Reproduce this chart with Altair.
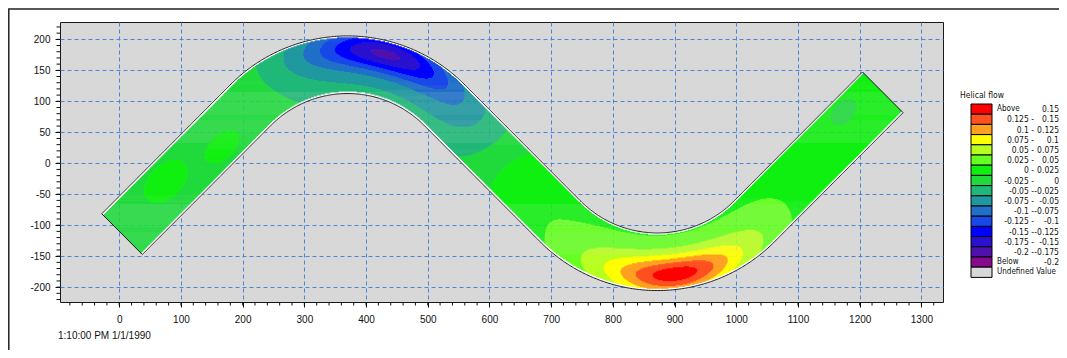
import numpy as np
import pandas as pd
import altair as alt

# ---------------- axes / text ----------------
X_DOMAIN = [-96, 1335]
Y_DOMAIN = [-224, 228]
X_TICKS = list(range(0, 1301, 100))
Y_TICKS = list(range(-200, 201, 50))
X_MINOR = list(range(-80, 1335, 20))
Y_MINOR = list(range(-220, 228, 10))
TIMESTAMP = "1:10:00 PM 1/1/1990"

# ---------------- legend ----------------
LEGEND_TITLE = "Helical flow"
THRESHOLDS = [-0.2, -0.175, -0.15, -0.125, -0.1, -0.075, -0.05, -0.025,
              0, 0.025, 0.05, 0.075, 0.1, 0.125, 0.15]
# colours from "Below -0.2" up to "Above 0.15"
BAND_COLORS = ["#860A8C", "#5010B0", "#2A10D0", "#0000FF", "#1848E8",
               "#2070C8", "#2098A0", "#20B878", "#20DA3C", "#10F010",
               "#66FF22", "#B8FF20", "#FFFF00", "#FFA020", "#FF5020",
               "#FF0000"]
UNDEFINED_COLOR = "#D8D8D8"
LEG_WORD = ["Above", "", "", "", "", "", "", "", "", "", "", "", "", "", "",
            "Below", "Undefined Value"]
LEG_FROM = ["", "0.125 -", "0.1 -", "0.075 -", "0.05 -", "0.025 -", "0 -",
            "-0.025 -", "-0.05 -", "-0.075 -", "-0.1 -", "-0.125 -",
            "-0.15 -", "-0.175 -", "-0.2 -", "", ""]
LEG_TO = ["0.15", "0.15", "0.125", "0.1", "0.075", "0.05", "0.025", "0",
          "-0.025", "-0.05", "-0.075", "-0.1", "-0.125", "-0.15", "-0.175",
          "-0.2", ""]

# ---------------- channel geometry ----------------
APEX_X, APEX_Y = 370.0, 159.0      # centre line crest of the upper bend
CROSS_X = 621.0                    # centre line crosses y = 0 here
BEND_R = 222.0                     # centre line radius of the bends
END_X = 4.6                        # x of the upstream end centre
HALF_W = 46.5                      # half width of the channel
EDGE_GAP = 2.5                     # white margin inside the banks

# ---------------- helical-flow field (blobs in channel coords s, n) -------
FIELD_BASE = -0.006
BLOB_S = [545, 525, 1105, 1110, 110, 215, 830, 1430, 1480]
BLOB_N = [20, 25, -20, -22, 10, -15, 0, 0, 20]
BLOB_AMP = [-0.06, -0.115, 0.055, 0.116, 0.018, 0.015, 0.02, 0.018, -0.015]
BLOB_SS = [200, 95, 215, 90, 40, 35, 70, 130, 30]
BLOB_SN = [85, 30, 80, 30, 25, 20, 60, 80, 20]
BLOB_P = [4, 2, 4, 2, 2, 2, 2, 2, 2]

# ---------------- geometry helpers ----------------
c45 = np.sqrt(0.5)
C1 = np.array([APEX_X, APEX_Y - BEND_R])
C2 = np.array([2 * CROSS_X - APEX_X, -(APEX_Y - BEND_R)])
T1a = C1 + BEND_R * np.array([-c45, c45])
T1b = C1 + BEND_R * np.array([c45, c45])
T2a = C2 + BEND_R * np.array([-c45, -c45])
T2b = C2 + BEND_R * np.array([c45, -c45])
L1 = (T1a[0] - END_X) / c45
P0 = T1a - L1 * np.array([c45, c45])
ARC = BEND_R * np.pi / 2
L2 = np.hypot(*(T2a - T1b))
s1, s2 = L1, L1 + ARC
s3 = s2 + L2
s4 = s3 + ARC
s5 = s4 + L1
d_up = np.array([c45, c45])
d_dn = np.array([c45, -c45])


def centre(s):
    s = np.asarray(s, float)
    cx = np.zeros_like(s); cy = np.zeros_like(s)
    nx = np.zeros_like(s); ny = np.zeros_like(s)
    m = s <= s1
    cx[m] = P0[0] + s[m] * d_up[0]; cy[m] = P0[1] + s[m] * d_up[1]
    nx[m], ny[m] = -c45, c45
    m = (s > s1) & (s <= s2)
    ph = np.deg2rad(135) - (s[m] - s1) / BEND_R
    cx[m] = C1[0] + BEND_R * np.cos(ph); cy[m] = C1[1] + BEND_R * np.sin(ph)
    nx[m], ny[m] = np.cos(ph), np.sin(ph)
    m = (s > s2) & (s <= s3)
    cx[m] = T1b[0] + (s[m] - s2) * d_dn[0]; cy[m] = T1b[1] + (s[m] - s2) * d_dn[1]
    nx[m], ny[m] = c45, c45
    m = (s > s3) & (s <= s4)
    ph = np.deg2rad(-135) + (s[m] - s3) / BEND_R
    cx[m] = C2[0] + BEND_R * np.cos(ph); cy[m] = C2[1] + BEND_R * np.sin(ph)
    nx[m], ny[m] = -np.cos(ph), -np.sin(ph)
    m = s > s4
    cx[m] = T2b[0] + (s[m] - s4) * d_up[0]; cy[m] = T2b[1] + (s[m] - s4) * d_up[1]
    nx[m], ny[m] = -c45, c45
    return cx, cy, nx, ny


def channel_coords(px, py):
    best_d = np.full(px.shape, np.inf)
    S = np.zeros(px.shape); N = np.zeros(px.shape)

    def take(valid, s, n):
        nonlocal best_d, S, N
        d = np.where(valid, np.abs(n), np.inf)
        m = d < best_d
        best_d = np.where(m, d, best_d)
        S = np.where(m, s, S); N = np.where(m, n, N)

    for P, d, L, off in [(P0, d_up, L1, 0.0), (T1b, d_dn, L2, s2), (T2b, d_up, L1, s4)]:
        t = (px - P[0]) * d[0] + (py - P[1]) * d[1]
        n = (py - P[1]) * d[0] - (px - P[0]) * d[1]
        take((t >= 0) & (t <= L), off + t, n)
    vx, vy = px - C1[0], py - C1[1]
    r = np.hypot(vx, vy); ph = np.degrees(np.arctan2(vy, vx))
    take((ph >= 45) & (ph <= 135), s1 + BEND_R * np.deg2rad(135 - ph), r - BEND_R)
    vx, vy = px - C2[0], py - C2[1]
    r = np.hypot(vx, vy); ph = np.degrees(np.arctan2(vy, vx))
    take((ph >= -135) & (ph <= -45), s3 + BEND_R * np.deg2rad(ph + 135), BEND_R - r)
    return S, N, best_d


def field(S, N):
    v = np.full(S.shape, FIELD_BASE)
    for s0, n0, a, ss, sn, p in zip(BLOB_S, BLOB_N, BLOB_AMP, BLOB_SS, BLOB_SN, BLOB_P):
        v = v + a * np.exp(-np.abs((S - s0) / ss) ** p - ((N - n0) / sn) ** 2)
    return v


# ---------------- contour cells (row runs of equal class) ----------------
DX, DY = 0.8, 1.6
xs = np.arange(-40, 1295, DX)
ys = np.arange(-212, 216, DY)
XX, YY = np.meshgrid(xs, ys)
S, N, D = channel_coords(XX, YY)
V = field(S, N)
band = np.digitize(V, THRESHOLDS)
code = np.where(D > HALF_W, -1, np.where(D > HALF_W - EDGE_GAP, 16, band))

cells, strip = [], []
for j, y in enumerate(ys):
    c = code[j]
    idx = np.flatnonzero(np.diff(c) != 0) + 1
    for a, b in zip(np.r_[0, idx], np.r_[idx, len(c)]):
        k = c[a]
        if k < 0:
            continue
        rec = dict(x0=round(xs[a] - DX / 2, 2), x1=round(xs[b - 1] + DX, 2),
                   y0=round(y - DY / 2, 2), y1=round(y + DY * 0.8, 2))
        if k == 16:
            strip.append(rec)
        else:
            rec["v"] = round(float(V[j, a:b].mean()), 4)
            cells.append(rec)
cells = pd.DataFrame(cells)
strip = pd.DataFrame(strip)

# outline of the channel
sa = np.arange(0, s5 + 0.01, 2.0)
sa[-1] = s5
cx, cy, nx, ny = centre(sa)
ox = np.r_[cx + HALF_W * nx, (cx - HALF_W * nx)[::-1], cx[0] + HALF_W * nx[0]]
oy = np.r_[cy + HALF_W * ny, (cy - HALF_W * ny)[::-1], cy[0] + HALF_W * ny[0]]
outline = pd.DataFrame({"x": ox, "y": oy, "o": np.arange(len(ox))})

# ---------------- encodings ----------------
XS = alt.Scale(domain=X_DOMAIN, nice=False, zero=False)
YS = alt.Scale(domain=Y_DOMAIN, nice=False, zero=False)
XA = alt.Axis(values=X_TICKS, title=None, grid=True, labelPadding=7,
              labelExpr="'' + datum.value")
YA = alt.Axis(values=Y_TICKS, title=None, grid=True, labelPadding=5,
              labelExpr="'' + datum.value")


def X(f):
    return alt.X(f, type="quantitative", scale=XS, axis=XA)


def Y(f):
    return alt.Y(f, type="quantitative", scale=YS, axis=YA)


cell_layer = alt.Chart(cells).mark_rect(strokeWidth=0).encode(
    x=X("x0"), x2="x1", y=Y("y0"), y2="y1",
    color=alt.Color("v:Q", scale=alt.Scale(type="threshold", domain=THRESHOLDS,
                                           range=BAND_COLORS), legend=None))
strip_layer = alt.Chart(strip).mark_rect(color="white", strokeWidth=0).encode(
    x=X("x0"), x2="x1", y=Y("y0"), y2="y1")
outline_layer = alt.Chart(outline).mark_line(color="#1a1a1a", strokeWidth=1).encode(
    x=X("x"), y=Y("y"), order="o:Q")
xminor = alt.Chart(pd.DataFrame({"t": X_MINOR})).mark_rule(color="#111", strokeWidth=1).encode(
    x=X("t"), y=alt.value(280), y2=alt.value(283.5))
yminor = alt.Chart(pd.DataFrame({"t": Y_MINOR})).mark_rule(color="#111", strokeWidth=1).encode(
    y=Y("t"), x=alt.value(-3.5), x2=alt.value(0))

main = alt.layer(cell_layer, strip_layer, outline_layer, xminor, yminor)

# legend drawn with its own row scale
nrow = len(LEG_WORD)
leg_colors = BAND_COLORS[::-1] + [UNDEFINED_COLOR]
leg = pd.DataFrame({"r": np.arange(nrow), "r2": np.arange(nrow) + 1,
                    "rm": np.arange(nrow) + 0.5, "col": leg_colors,
                    "w": LEG_WORD, "f": LEG_FROM, "t": LEG_TO})
RS = alt.Scale(domain=[0, nrow], range=[82, 255.4], nice=False, zero=False)
lb = alt.Chart(leg)
swatch = lb.mark_rect(stroke="black", strokeWidth=1).encode(
    x=alt.value(911), x2=alt.value(932),
    y=alt.Y("r:Q", scale=RS, axis=None), y2="r2:Q",
    fill=alt.Fill("col:N", scale=None))
tstyle = dict(font="'Liberation Sans Narrow', 'DejaVu Sans Condensed', 'Liberation Sans'",
              fontSize=8.5, color="#111", baseline="middle")
wstyle = dict(tstyle, fontSize=8)
t_word = lb.mark_text(align="left", **wstyle).encode(
    x=alt.value(937), y=alt.Y("rm:Q", scale=RS, axis=None), text="w:N")
t_from = lb.mark_text(align="right", **tstyle).encode(
    x=alt.value(974), y=alt.Y("rm:Q", scale=RS, axis=None), text="f:N")
t_to = lb.mark_text(align="right", **tstyle).encode(
    x=alt.value(999), y=alt.Y("rm:Q", scale=RS, axis=None), text="t:N")
legend = alt.layer(swatch, t_word, t_from, t_to)

one = pd.DataFrame({"title": [LEGEND_TITLE], "stamp": [TIMESTAMP]})
title = alt.Chart(one).mark_text(align="left", **tstyle).encode(
    x=alt.value(900), y=alt.value(73), text="title:N")
stamp = alt.Chart(one).mark_text(align="left", font="Liberation Sans", fontSize=10,
                                 color="#111", baseline="middle").encode(
    x=alt.value(-2), y=alt.value(314), text="stamp:N")
frame = alt.Chart(one).mark_rect(filled=False, stroke="#222", strokeWidth=1.5).encode(
    x=alt.value(-51.2), x2=alt.value(1400), y=alt.value(-13), y2=alt.value(600))

chart = alt.layer(main, legend, title, stamp, frame).resolve_scale(
    y="independent"
).properties(
    width=883, height=280,
    autosize=alt.AutoSizeParams(type="none"),
    padding={"left": 52, "top": 14, "right": 116, "bottom": 48},
).configure_view(
    fill="#D8D8D8", stroke="#1a1a1a", strokeWidth=1
).configure_axis(
    labelFont="Liberation Sans", labelFontSize=10, labelColor="#111",
    tickColor="#111", tickSize=5, domain=False,
    gridColor="#4A86D8", gridDash=[4, 3], gridWidth=1
)

chart.save("out.html", embed_options={"renderer": "svg", "actions": False})
